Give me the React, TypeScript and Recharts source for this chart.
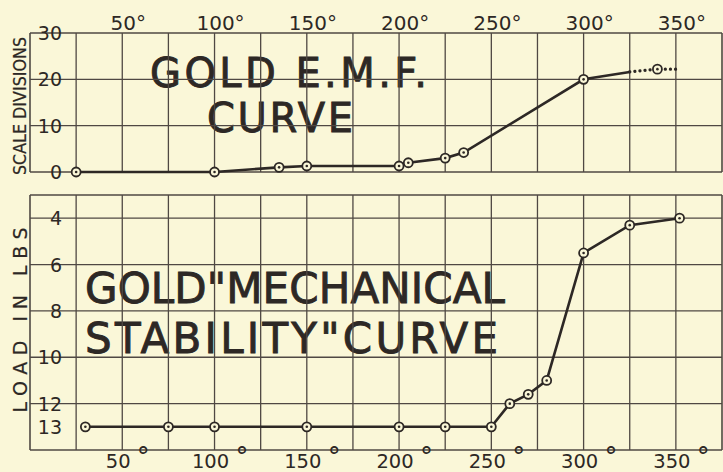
import React from 'react';
import { LineChart, Line, XAxis, YAxis, ReferenceLine, Customized } from 'recharts';

const EMF_DEGREES = [25, 100, 135, 150, 200, 205, 225, 235, 300, 325];
const EMF_DIVISIONS = [0, 0, 1.0, 1.3, 1.3, 2.0, 3.0, 4.2, 20.0, 21.6];
const EMF_EXTRA_DEGREES = [325, 340, 352];
const EMF_EXTRA_DIVISIONS = [21.6, 22.2, 22.2];

const STAB_DEGREES = [30, 75, 100, 150, 200, 225, 250, 260, 270, 280, 300, 325, 352];
const STAB_LOAD = [13, 13, 13, 13, 13, 13, 13, 12, 11.6, 11, 5.5, 4.3, 4.0];

const DEGREE_TICKS = [50, 100, 150, 200, 250, 300, 350];
const GRID_DEGREES = [25, 50, 75, 100, 125, 150, 175, 200, 225, 250, 275, 300, 325, 350];
const EMF_TICKS = [0, 10, 20, 30];
const EMF_GRID = [10, 20];
const LOAD_TICKS = [4, 6, 8, 10, 12, 13];
const LOAD_GRID = [4, 6, 8, 10, 12];

const X_DOMAIN = [0, 375];
const EMF_DOMAIN = [0, 30];
const LOAD_DOMAIN = [3, 14];

const PAPER = '#faf7d8';
const INK = '#2d2825';
const GRID = '#4f4843';
const FONT = "'DejaVu Sans', sans-serif";

const emfData = EMF_DEGREES.map((d, i) => ({ deg: d, v: EMF_DIVISIONS[i] }));
const emfExtra = EMF_EXTRA_DEGREES.map((d, i) => ({ deg: d, v: EMF_EXTRA_DIVISIONS[i] }));
const stabData = STAB_DEGREES.map((d, i) => ({ deg: d, v: STAB_LOAD[i] }));

const markerDot = (show: (i: number) => boolean) => (props: any) => {
  const { cx, cy, index } = props;
  if (!show(index) || cx == null || cy == null) return <g key={`n${index}`} />;
  return (
    <g key={`d${index}`}>
      <circle cx={cx} cy={cy} r={4.5} fill={PAPER} stroke={INK} strokeWidth={1.8} />
      <circle cx={cx} cy={cy} r={1.3} fill={INK} />
    </g>
  );
};

const TopDegTick = (props: any) => {
  const { x, y, payload } = props;
  return (
    <text x={x + 6} y={y - 3} textAnchor="middle" fontSize={20} fill={INK} fontFamily={FONT}>
      {`${payload.value}°`}
    </text>
  );
};

const BottomDegTick = (props: any) => {
  const { x, y, payload } = props;
  const len = String(payload.value).length;
  return (
    <g>
      <text x={x - 4} y={y + 18} textAnchor="middle" fontSize={19.5} fill={INK} fontFamily={FONT}>
        {payload.value}
      </text>
      <text x={x + 8 + 6.5 * len} y={y + 15.5} textAnchor="middle" fontSize={26} fill={INK} fontFamily={FONT}>
        °
      </text>
    </g>
  );
};

const LeftTick = (props: any) => {
  const { x, y, payload } = props;
  return (
    <text x={x + 32} y={y + 7} textAnchor="end" fontSize={19} fill={INK} fontFamily={FONT}>
      {payload.value}
    </text>
  );
};

const TopTitles = () => (
  <g fill={INK} stroke={INK} strokeWidth={0.9} fontFamily={FONT}>
    <text x={150} y={87} fontSize={40} textLength={277} lengthAdjust="spacing">GOLD E.M.F.</text>
    <text x={207} y={132} fontSize={40} textLength={146} lengthAdjust="spacing">CURVE</text>
    <text transform="translate(26,106) rotate(-90)" textAnchor="middle" fontSize={18} strokeWidth={0.2} textLength={138} lengthAdjust="spacingAndGlyphs">SCALE DIVISIONS</text>
  </g>
);

const BottomTitles = () => (
  <g fill={INK} stroke={INK} strokeWidth={0.9} fontFamily={FONT}>
    <text x={85} y={118} fontSize={42} textLength={420} lengthAdjust="spacing">GOLD"MECHANICAL</text>
    <text x={85} y={168} fontSize={42} textLength={413} lengthAdjust="spacing">STABILITY"CURVE</text>
    <text transform="translate(27,135) rotate(-90)" textAnchor="middle" fontSize={19} strokeWidth={0.2} textLength={185} lengthAdjust="spacing">LOAD IN LBS</text>
  </g>
);

export default function App() {
  return (
    <div style={{ position: 'absolute', left: 0, top: 0, width: 723, height: 472, background: PAPER, overflow: 'hidden' }}>
      <div style={{ position: 'absolute', left: 0, top: 0 }}>
        <LineChart width={723} height={185} margin={{ top: 32, right: 1, bottom: 13, left: 29 }}>
          <XAxis dataKey="deg" type="number" orientation="top" domain={X_DOMAIN} ticks={DEGREE_TICKS} interval={0}
            allowDataOverflow height={1} tickSize={0} tickMargin={0} axisLine={false} tickLine={false} tick={<TopDegTick />} />
          <YAxis type="number" domain={EMF_DOMAIN} ticks={EMF_TICKS} interval={0} width={1} tickSize={0} tickMargin={0}
            axisLine={false} tickLine={false} tick={<LeftTick />} />
          {GRID_DEGREES.map((d) => (
            <ReferenceLine key={`gx${d}`} x={d} stroke={GRID} strokeWidth={1.3} />
          ))}
          {EMF_GRID.map((v) => (
            <ReferenceLine key={`gy${v}`} y={v} stroke={GRID} strokeWidth={1.3} />
          ))}
          <ReferenceLine x={X_DOMAIN[0]} stroke={GRID} strokeWidth={1.6} />
          <ReferenceLine x={X_DOMAIN[1]} stroke={GRID} strokeWidth={1.6} />
          <ReferenceLine y={EMF_DOMAIN[0]} stroke={GRID} strokeWidth={1.6} />
          <ReferenceLine y={EMF_DOMAIN[1]} stroke={GRID} strokeWidth={1.6} />
          <Customized component={TopTitles} />
          <Line data={emfData} dataKey="v" stroke={INK} strokeWidth={2.6} isAnimationActive={false}
            dot={markerDot((i) => i < emfData.length - 1)} activeDot={false} />
          <Line data={emfExtra} dataKey="v" stroke={INK} strokeWidth={3.2} strokeDasharray="0.1 5" strokeLinecap="round"
            isAnimationActive={false} dot={markerDot((i) => i === 1)} activeDot={false} />
        </LineChart>
      </div>
      <div style={{ position: 'absolute', left: 0, top: 185 }}>
        <LineChart width={723} height={287} margin={{ top: 10, right: 1, bottom: 21, left: 29 }}>
          <XAxis dataKey="deg" type="number" orientation="bottom" domain={X_DOMAIN} ticks={DEGREE_TICKS} interval={0}
            allowDataOverflow height={1} tickSize={0} tickMargin={0} axisLine={false} tickLine={false} tick={<BottomDegTick />} />
          <YAxis type="number" domain={LOAD_DOMAIN} reversed ticks={LOAD_TICKS} interval={0} width={1} tickSize={0} tickMargin={0}
            axisLine={false} tickLine={false} tick={<LeftTick />} />
          {GRID_DEGREES.map((d) => (
            <ReferenceLine key={`bx${d}`} x={d} stroke={GRID} strokeWidth={1.3} />
          ))}
          {LOAD_GRID.map((v) => (
            <ReferenceLine key={`by${v}`} y={v} stroke={GRID} strokeWidth={1.3} />
          ))}
          <ReferenceLine x={X_DOMAIN[0]} stroke={GRID} strokeWidth={1.6} />
          <ReferenceLine x={X_DOMAIN[1]} stroke={GRID} strokeWidth={1.6} />
          <ReferenceLine y={LOAD_DOMAIN[0]} stroke={GRID} strokeWidth={1.6} />
          <ReferenceLine y={LOAD_DOMAIN[1]} stroke={GRID} strokeWidth={1.6} />
          <Customized component={BottomTitles} />
          <Line data={stabData} dataKey="v" stroke={INK} strokeWidth={2.6} isAnimationActive={false}
            dot={markerDot(() => true)} activeDot={false} />
        </LineChart>
      </div>
    </div>
  );
}
